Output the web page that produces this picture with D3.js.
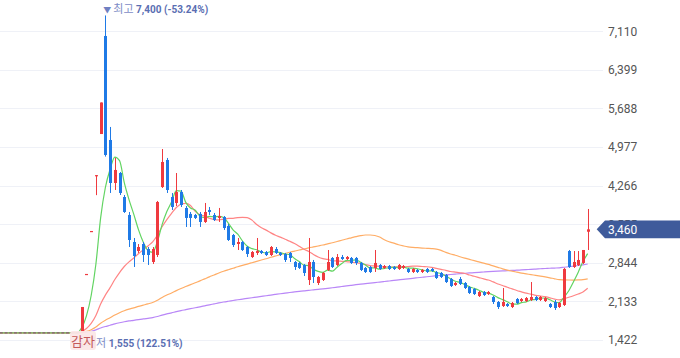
<!DOCTYPE html>
<html><head><meta charset="utf-8">
<script src="https://cdn.jsdelivr.net/npm/d3@7"></script>
<style>body{margin:0;background:#fff}svg{display:block}</style>
</head><body><svg id="c" width="680" height="358"></svg>
<script>
// ---- data ----
const basePrice = 1555;          // flat (halted) price before relisting
const flatDaysShown = 18;        // flat days visible at the left
const preHistoryDays = 150;      // flat history used by the moving averages
const opens = [1555,2639,3430,4440,5216,7022,5106,4314,4498,4056,
  3725,3227,3061,3190,3098,2859,2988,4240,4738,4056,
  3946,4148,3854,3744,3725,3744,3596,3817,3725,3670,
  3688,3522,3356,3190,3227,3135,2951,3025,3061,3043,
  2988,3098,3025,3006,3025,2859,2841,2804,2527,2859,
  2472,2527,2712,2933,2804,2951,2914,2933,2933,2841,
  2749,2767,2749,2804,2749,2785,2767,2730,2749,2730,
  2675,2712,2675,2730,2730,2675,2656,2620,2546,2435,
  2546,2472,2398,2361,2232,2306,2269,2214,2122,2048,
  2085,2030,2177,2140,2140,2159,2214,2159,2140,2085,
  2122,2030,2067,3061,2767,2804,2841,3416];
const highs = [2030,2639,3430,4459,5797,7400,5346,4775,4517,4093,
  3780,3301,3190,3227,3135,3135,3983,4940,4775,4130,
  4498,4185,3890,3780,3744,3780,3946,3872,3762,3854,
  3706,3559,3375,3301,3246,3153,3061,3301,3080,3061,
  3153,3135,3043,3025,3043,2878,2859,2822,3301,2896,
  2601,2675,3080,2951,3006,2988,2969,2951,2951,2859,
  2767,2785,3080,2822,2804,2804,2785,2822,2804,2749,
  2749,2730,2730,2749,2749,2693,2675,2638,2564,2490,
  2583,2490,2417,2380,2324,2324,2324,2232,2140,2380,
  2103,2122,2195,2195,2214,2490,2232,2232,2214,2103,
  2159,2122,2749,3080,3061,3061,3080,3835];
const lows = [1555,2639,3430,4090,5216,4800,4130,4185,4093,3762,
  3135,2767,3025,2859,2804,2822,2951,4222,4130,3817,
  3890,3872,3504,3504,3651,3504,3578,3725,3614,3596,
  3449,3246,3135,3080,3061,2951,2933,2988,3006,2969,
  2969,3006,2969,2859,2859,2712,2730,2601,2435,2472,
  2435,2509,2693,2749,2785,2896,2896,2822,2804,2693,
  2656,2656,2675,2712,2730,2712,2712,2712,2730,2656,
  2656,2656,2656,2656,2675,2546,2564,2472,2398,2417,
  2435,2361,2269,2251,2214,2232,2251,2085,1993,2030,
  2030,2011,2085,2122,2122,2140,2140,2140,2122,2011,
  1975,2011,2048,2749,2749,2785,2822,3080];
const closes = [2030,2639,3430,4459,5797,4830,4314,4554,4130,3780,
  3264,2969,3135,2988,2988,3098,3964,4701,4185,3872,
  4148,3909,3670,3670,3670,3596,3780,3780,3633,3706,
  3485,3264,3172,3227,3080,3006,3043,3061,3025,2988,
  3135,3025,2988,2896,2933,2767,2749,2656,2859,2583,
  2583,2656,2859,2767,2951,2914,2951,2841,2841,2712,
  2675,2675,2841,2730,2785,2730,2730,2804,2785,2675,
  2730,2675,2712,2675,2693,2564,2583,2490,2417,2472,
  2454,2380,2288,2269,2306,2251,2306,2122,2030,2122,
  2048,2103,2103,2177,2195,2214,2159,2214,2195,2030,
  2011,2103,2731,2767,2859,2896,3080,3460];
const yTicks = [1422,2133,2844,3555,4266,4977,5688,6399,7110];
const maPeriods = [120,60,20,5];
const maxPrice = 7400, maxPct = "-53.24%";
const minPrice = 1555, minPct = "122.51%";
const lastPrice = 3460;
const eventLabel = "감자";

// ---- drawing ----
const svg = d3.select("#c");
const n = closes.length;
const x = d3.scaleLinear().domain([-flatDaysShown, n - 1]).range([-3.4, 587.7]);
const y = d3.scaleLinear().domain([1422, 7110]).range([340, 31.2]);
const fmt = d3.format(",");
const UP = "#ef3a3f", DOWN = "#1f7ae6";

// grid
svg.append("g").selectAll("line").data(yTicks).join("line")
  .attr("x1", 0).attr("x2", 603)
  .attr("y1", d => Math.round(y(d)) + 0.5).attr("y2", d => Math.round(y(d)) + 0.5)
  .attr("stroke", "#eff1f7").attr("stroke-width", 1);

// axis
const axis = d3.axisRight(y).tickValues(yTicks).tickFormat(fmt).tickSize(0).tickPadding(0);
const ag = svg.append("g").attr("transform", "translate(608,0)").call(axis);
ag.select(".domain").remove();
ag.selectAll("text").attr("font-family", "Roboto, 'Noto Sans', sans-serif")
  .attr("font-size", 12).attr("fill", "#555").attr("x", 0);

// moving averages
const allCloses = new Array(preHistoryDays).fill(basePrice).concat(closes);
const maColors = {120: "#b987f7", 60: "#ffad66", 20: "#ff8585", 5: "#62d462"};
const days = d3.range(-flatDaysShown, n);
const lineGen = d3.line().x(d => x(d.i)).y(d => y(d.v)).curve(d3.curveMonotoneX);
maPeriods.forEach(p => {
  const pts = days.map(i => {
    const end = i + preHistoryDays;
    const w = allCloses.slice(end - p + 1, end + 1);
    return {i, v: d3.mean(w)};
  });
  svg.append("path").datum(pts).attr("d", lineGen)
    .attr("fill", "none").attr("stroke", maColors[p]).attr("stroke-width", 1.2);
});

// flat days
svg.append("g").selectAll("rect").data(d3.range(-flatDaysShown, 0)).join("rect")
  .attr("x", i => x(i) - 1.5).attr("width", 3)
  .attr("y", y(basePrice) - 0.5).attr("height", 1.2)
  .attr("fill", "#8a5676");

// candles
const cg = svg.append("g").selectAll("g").data(d3.range(n)).join("g");
cg.append("line")
  .attr("x1", i => Math.round(x(i)) + 0.5).attr("x2", i => Math.round(x(i)) + 0.5)
  .attr("y1", i => y(highs[i])).attr("y2", i => y(lows[i]))
  .attr("stroke", i => closes[i] >= opens[i] ? UP : DOWN).attr("stroke-width", 1);
cg.append("rect")
  .attr("x", i => Math.round(x(i)) - 1)
  .attr("width", 3)
  .attr("y", i => y(Math.max(opens[i], closes[i])))
  .attr("height", i => Math.max(1.2, Math.abs(y(opens[i]) - y(closes[i]))))
  .attr("fill", i => closes[i] >= opens[i] ? UP : DOWN);

// max label
const imax = highs.indexOf(maxPrice);
const tTop = svg.append("text").attr("x", x(imax) - 2).attr("y", 13)
  .attr("font-family", "Roboto, 'Noto Sans CJK KR', sans-serif").attr("font-size", 11);
tTop.append("tspan").attr("fill", "#6f80c2").attr("font-size", 8).text("▼ ");
tTop.append("tspan").attr("fill", "#7d8cc6").attr("font-family", "'Noto Sans CJK KR'").text("최고 ");
tTop.append("tspan").attr("fill", "#5a6eb2").attr("font-weight", "bold").attr("font-size", 10).text(fmt(maxPrice) + " (" + maxPct + ")");

// min label
const tBot = svg.append("text").attr("x", 76).attr("y", 347)
  .attr("font-family", "Roboto, 'Noto Sans CJK KR', sans-serif").attr("font-size", 11);
tBot.append("tspan").attr("fill", "#6f80c2").attr("font-size", 8).text("▲ ");
tBot.append("tspan").attr("fill", "#7d8cc6").attr("font-family", "'Noto Sans CJK KR'").text("최저 ");
tBot.append("tspan").attr("fill", "#5a6eb2").attr("font-weight", "bold").attr("font-size", 10).text(fmt(minPrice) + " (" + minPct + ")");

// event label
svg.append("rect").attr("x", 70).attr("y", 331).attr("width", 26).attr("height", 19)
  .attr("rx", 3).attr("fill", "#fbe7e7").attr("opacity", 0.95);
svg.append("text").attr("x", 83).attr("y", 345.5).attr("text-anchor", "middle")
  .attr("font-family", "'Noto Sans CJK KR', sans-serif").attr("font-size", 13)
  .attr("fill", "#c4585a").text(eventLabel);

// last price tag
const ly = y(lastPrice);
svg.append("path")
  .attr("d", `M596.7,${ly} L605,${ly - 8.8} L680,${ly - 8.8} L680,${ly + 8.8} L605,${ly + 8.8} Z`)
  .attr("fill", "#3f5b9b");
svg.append("text").attr("x", 608).attr("y", ly).attr("dy", "0.35em")
  .attr("font-family", "Roboto, 'Noto Sans', sans-serif").attr("font-size", 12)
  .attr("fill", "#fff").text(fmt(lastPrice));
</script></body></html>
